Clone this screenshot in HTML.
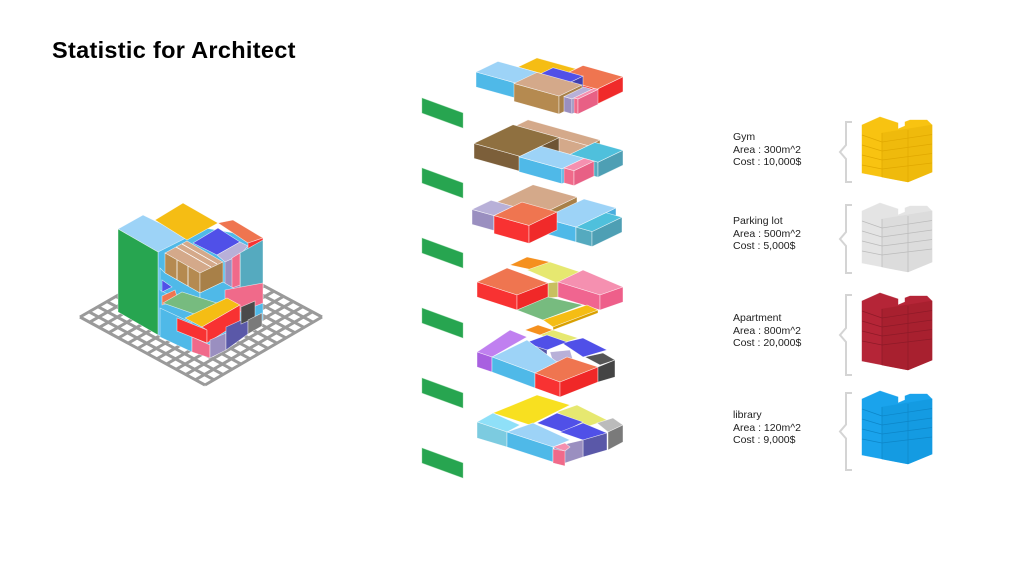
<!DOCTYPE html>
<html><head><meta charset="utf-8"><style>
html,body{margin:0;padding:0;background:#fff;}
#wrap{position:relative;width:1024px;height:576px;overflow:hidden;background:#fff;font-family:"Liberation Sans",Arial,sans-serif;}
h1{position:absolute;left:52px;top:37px;margin:0;font-size:23.5px;font-weight:bold;color:#000;letter-spacing:0.3px;line-height:26px;}
.lab{position:absolute;left:733px;font-size:10.5px;line-height:12.5px;color:#222;}
svg{position:absolute;left:0;top:0;}
</style></head><body><div id="wrap">
<h1>Statistic for Architect</h1>
<div class="lab" style="top:131px">Gym<br>Area : 300m^2<br>Cost : 10,000$</div>
<div class="lab" style="top:215px">Parking lot<br>Area : 500m^2<br>Cost : 5,000$</div>
<div class="lab" style="top:312px">Apartment<br>Area : 800m^2<br>Cost : 20,000$</div>
<div class="lab" style="top:409px">library<br>Area : 120m^2<br>Cost : 9,000$</div>
<svg id="s" width="1024" height="576" viewBox="0 0 1024 576"></svg>
</div>
<script>
var out=[];
function poly(pts,f,st){out.push('<polygon points="'+pts.map(function(p){return p[0]+','+p[1]}).join(' ')+'" fill="'+f+'" stroke="'+(st||'#ffffff')+'" stroke-width="0.6" stroke-opacity="0.7"/>');}
function line(x1,y1,x2,y2,c,w){out.push('<line x1="'+x1+'" y1="'+y1+'" x2="'+x2+'" y2="'+y2+'" stroke="'+c+'" stroke-width="'+w+'"/>');}
var C={lb:['#9dd3f7','#4fb9e8','#4aaede'],yel:['#f5bd14','#e0a800','#d9a000'],org:['#ef7550','#f83232','#f02a2a'],
blu:['#5050e8','#4545c0','#4040b0'],brn:['#d4a98a','#b58a50','#a88048'],dbr:['#8f7040','#7c5f3a','#6e5434'],
lil:['#b8b0d8','#9a8fc0','#9088b8'],pnk:['#f590b0','#f06a8a','#e86085'],teal:['#4fc0dc','#55aabf','#4e9fb4']};
function box(ox,oy,a0,b0,da,db,c,t,z){t=t||15;z=z||0;var col=C[c];
 function P(a,b,h){return [ox+a+b, +(oy+0.28*a-0.48*b-h).toFixed(1)];}
 var a1=a0+da,b1=b0+db;
 poly([P(a0,b0,z),P(a1,b0,z),P(a1,b0,z-t),P(a0,b0,z-t)],col[1]);
 poly([P(a1,b0,z),P(a1,b1,z),P(a1,b1,z-t),P(a1,b0,z-t)],col[2]);
 poly([P(a0,b0,z),P(a1,b0,z),P(a1,b1,z),P(a0,b1,z)],col[0]);
}
// grid
(function(){var L=[80,317],B=[205,385],R=[322,317],T=[197,250],n=13;
 poly([L,B,R,T],'#ffffff','#999');
 for(var i=0;i<=n;i++){var f=i/n;
  line(L[0]+(B[0]-L[0])*f,L[1]+(B[1]-L[1])*f,T[0]+(R[0]-T[0])*f,T[1]+(R[1]-T[1])*f,'#9a9a9a',3);
  line(L[0]+(T[0]-L[0])*f,L[1]+(T[1]-L[1])*f,B[0]+(R[0]-B[0])*f,B[1]+(R[1]-B[1])*f,'#9a9a9a',3);}
})();
// building
poly([[158,220],[263,238],[263,320],[210,357],[158,335]],'#4fb9e8');
poly([[118,229],[143,215],[188,237],[158,252]],'#9dd3f7');
poly([[155,220],[183,203],[218,223],[187,240]],'#f5bd14');
poly([[218,223],[233,220],[263,238],[248,243]],'#ef7550');
poly([[248,243],[263,238],[263,258],[248,263]],'#f83232');
poly([[193,243],[218,228],[240,242],[217,255]],'#5050e8');
poly([[217,255],[240,242],[248,246],[240,255],[225,262]],'#b8b0d8');
poly([[240,253],[263,240],[263,290],[240,292]],'#55aabf');
poly([[225,262],[240,255],[240,290],[225,295]],'#9a8fc0');
poly([[232,258],[240,253],[240,285],[232,288]],'#f06a8a');
poly([[165,253],[187,241],[223,262],[200,273]],'#d4a98a');
line(176,247,211,267,'#fff',0.8);line(182,244,217,264,'#fff',0.8);
poly([[165,253],[200,273],[200,293],[165,273]],'#b58a50');
line(177,260,177,280,'#fff',0.8);line(188,266,188,286,'#fff',0.8);
poly([[200,273],[223,262],[223,282],[200,293]],'#a88048');
poly([[160,268],[165,273],[200,293],[200,312],[160,290]],'#4fb9e8');
poly([[200,293],[223,282],[240,292],[200,312]],'#4fb9e8');
poly([[162,280],[172,287],[162,292]],'#5050e8');
poly([[162,296],[175,290],[178,300],[162,305]],'#ef7550');
poly([[225,290],[263,283],[263,303],[240,312],[225,305]],'#f06a8a');
poly([[163,303],[182,292],[223,305],[203,317]],'#77bb7f');
poly([[185,318],[227,298],[240,305],[202,327]],'#f5bd14');
poly([[160,308],[192,323],[192,352],[160,337]],'#4fb9e8');
poly([[177,318],[207,330],[207,343],[177,331]],'#f83232');
poly([[202,327],[240,305],[240,322],[207,343],[207,330]],'#f83232');
poly([[192,337],[210,345],[210,358],[192,352]],'#f06a8a');
poly([[210,340],[226,333],[226,350],[210,358]],'#9a8fc0');
poly([[226,327],[248,317],[248,334],[226,350]],'#5a58a8');
poly([[241,307],[255,301],[255,318],[241,324]],'#4a4a4a');
poly([[248,320],[262,313],[262,326],[248,334]],'#7a7a7a');
poly([[118,229],[158,252],[158,335],[118,312]],'#27a550');
// green bars
[98,168,238,308,378,448].forEach(function(y){poly([[422,y],[463,y+15],[463,y+30],[422,y+15]],'#27a550','#8fd4a0');});
// slab1
var o=[476,72];
box(o[0],o[1],20,22,39,19,'yel');
box(o[0],o[1],59,22,40,26,'org');
box(o[0],o[1],43,18,30,16,'blu');
box(o[0],o[1],0,0,43,22,'lb');
box(o[0],o[1],43,-5,45,23,'brn',18,3);
box(o[0],o[1],88,0,8,20,'lil');
box(o[0],o[1],96,2,4,20,'pnk');
// slab2
o=[477,142];
box(o[0],o[1],3,36,72,12,'brn');
box(o[0],o[1],46,18,29,18,'brn');
box(o[0],o[1],75,18,28,25,'teal');
box(o[0],o[1],0,-3,46,39,'dbr');
box(o[0],o[1],46,-4,43,22,'lb');
box(o[0],o[1],89,-2,10,20,'pnk');
// slab3
o=[477,207];
box(o[0],o[1],6,14,44,36,'brn');
box(o[0],o[1],57,10,32,40,'lb');
box(o[0],o[1],89,10,16,30,'teal');
box(o[0],o[1],0,-5,22,19,'lil');
box(o[0],o[1],22,-5,35,28,'org',18);
// slab4
poly([[510,265],[527,257],[550,262],[533,270]],'#f5901e');
poly([[527,270],[550,262],[580,272],[557,283]],'#e6e870');
poly([[548,283],[558,282],[558,297],[548,298]],'#c8c060');
poly([[558,282],[583,270],[623,287],[600,295]],'#f590b0');
poly([[558,282],[600,295],[600,310],[558,297]],'#f06590');
poly([[600,295],[623,287],[623,302],[600,310]],'#ee5f8a');
poly([[477,282],[507,268],[548,283],[517,295]],'#ef7550');
poly([[477,282],[517,295],[517,310],[477,297]],'#f83232');
poly([[517,295],[548,283],[548,298],[517,310]],'#f02828');
poly([[517,310],[548,297],[583,305],[543,320]],'#77bb7f');
poly([[543,320],[587,305],[598,310],[553,327]],'#f5bd14');
poly([[553,327],[598,310],[598,313],[553,330]],'#d9a000');
// slab5
poly([[525,330],[538,325],[553,330],[540,335]],'#f5901e');
poly([[540,335],[553,330],[578,338],[563,343]],'#e6e870');
poly([[585,357],[603,353],[615,360],[600,365]],'#555555');
poly([[562,343],[583,338],[607,350],[583,357]],'#5050e8');
poly([[525,343],[547,335],[567,342],[547,350]],'#5050e8');
poly([[525,343],[547,350],[547,360],[525,353]],'#5555a8');
poly([[550,352],[570,350],[573,360],[553,362]],'#b8b0d8');
poly([[477,352],[510,330],[527,337],[492,357]],'#c080f0');
poly([[477,352],[492,357],[492,372],[477,367]],'#a860e0');
poly([[492,357],[527,340],[557,362],[535,373]],'#9dd3f7');
poly([[492,357],[535,373],[535,388],[492,372]],'#4fb9e8');
poly([[535,373],[567,357],[598,367],[560,382]],'#ef7550');
poly([[535,373],[560,382],[560,397],[535,388]],'#f83232');
poly([[560,382],[598,367],[598,382],[560,397]],'#f02828');
poly([[598,367],[615,360],[615,377],[598,382]],'#444444');
// slab6
poly([[493,413],[537,395],[570,405],[530,425]],'#f8e020');
poly([[557,412],[577,405],[607,420],[583,428]],'#e6e870');
poly([[597,423],[613,418],[623,425],[608,432]],'#bbbbbb');
poly([[608,432],[623,425],[623,442],[608,450]],'#7a7a7a');
poly([[537,423],[557,413],[583,422],[563,432]],'#5050e8');
poly([[560,432],[583,423],[607,433],[583,440]],'#5050e8');
poly([[583,440],[607,433],[607,450],[583,457]],'#5a58a8');
poly([[477,422],[493,413],[520,425],[507,432]],'#8fe0f8');
poly([[477,422],[507,432],[507,447],[477,438]],'#7ccbe0');
poly([[507,432],[533,423],[570,440],[553,447]],'#9dd3f7');
poly([[507,432],[553,447],[553,462],[507,447]],'#4fb9e8');
poly([[553,447],[583,440],[583,457],[565,463]],'#9a8fc0');
poly([[553,447],[565,443],[570,447],[565,451]],'#f590b0');
poly([[553,449],[565,451],[565,466],[553,463]],'#f06a8a');
// right cubes + braces
function cube(y,c,d,g,h){h=h||0;
 var p=[[862,y+10],[880,y+2],[898,y+8],[898,y+14],[905,y+11],[905,y+7],[910,y+5],[927,y+5],[932,y+10],[932,y+57+h],[908,y+67+h],[862,y+58+h]];
 poly(p,c,c);
 poly([[882,y+18],[932,y+10],[932,y+57+h],[908,y+67+h],[882,y+62+h]],d,d);
 for(var k=1;k<5;k++){line(862,y+10+k*10,882,y+18+k*9,g,0.7);line(882,y+18+k*9,932,y+10+k*9.5,g,0.7);}
 line(882,y+18,882,y+62+h,g,0.7);line(908,y+15,908,y+67+h,g,0.7);
}
cube(115,'#f8c311','#efba0c','#e0a800');
cube(201,'#e4e4e4','#dcdcdc','#bbbbbb',4);
cube(291,'#b52537','#a8202f','#8e1a28',12);
cube(389,'#1aa3ec','#149be2','#0d86c8',8);
function brace(y1,y2){var m=(y1+y2)/2;out.push('<path d="M852 '+y1+' H846 V'+(m-7)+' L840 '+m+' L846 '+(m+7)+' V'+y2+' H852" fill="none" stroke="#d4d4d4" stroke-width="2"/>');}
brace(122,182);brace(205,273);brace(295,375);brace(393,470);
document.getElementById('s').innerHTML=out.join('');
</script>
</body></html>
